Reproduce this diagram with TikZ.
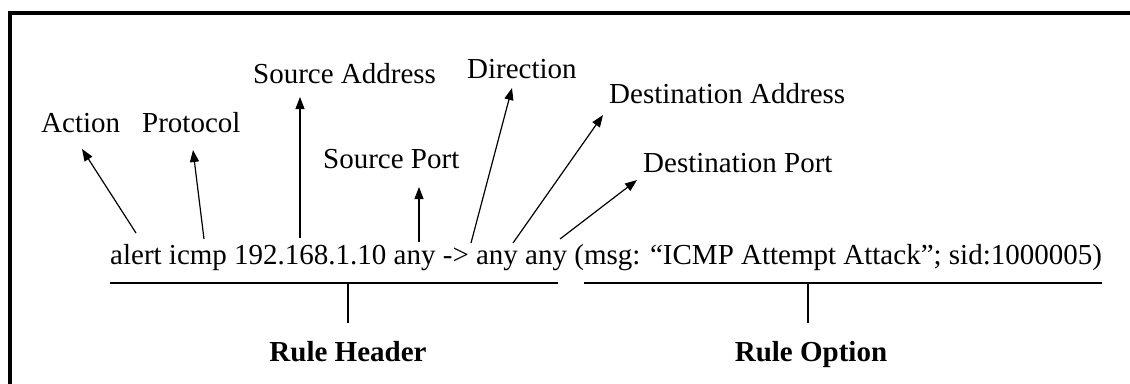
\documentclass[tikz,border=0pt]{standalone}
\usepackage{fontspec}
\setmainfont{Liberation Serif}
\usetikzlibrary{arrows.meta}
\tikzset{
  lbl/.style={inner sep=0pt, anchor=base west, font=\fontsize{29}{34}\selectfont},
  ttl/.style={inner sep=0pt, anchor=base, font=\fontsize{29}{34}\selectfont\bfseries},
  arr/.style={line width=1.2pt, -{Triangle[length=12pt,width=9pt]}},
  rul/.style={line width=1.2pt},
  frame/.style={line width=4pt}
}
\begin{document}
\begin{tikzpicture}[x=1pt,y=-1pt]
\useasboundingbox (0,0) rectangle (1130,383);
\fill[white] (0,0) rectangle (1130,383);
% frame (cut off at right and bottom)
\coordinate (fbl) at (10,385);
\coordinate (ftl) at (10,13);
\coordinate (ftr) at (1132,13);
\draw[frame] (fbl) -- (ftl) -- (ftr);
% main rule text
\node[lbl] (rule) at (110,264) {alert icmp 192.168.1.10 any -> any any (msg: “ICMP Attempt Attack”; sid:1000005)};
% labels
\node[lbl] (act) at (41,132) {Action};
\node[lbl] (prot) at (142,132) {Protocol};
\node[lbl] (saddr) at (253,83) {Source Address};
\node[lbl] (sport) at (323,168) {Source Port};
\node[lbl] (dir) at (467,78) {Direction};
\node[lbl] (daddr) at (609,103) {Destination Address};
\node[lbl] (dport) at (643,172) {Destination Port};
% arrow ends
\coordinate (actF) at (136,233);  \coordinate (actT) at (82,149);
\coordinate (protF) at (204,239); \coordinate (protT) at (193,150);
\coordinate (saF) at (300,238);   \coordinate (saT) at (300,97);
\coordinate (spF) at (419,242);   \coordinate (spT) at (419,187);
\coordinate (dirF) at (471,243);  \coordinate (dirT) at (512,88);
\coordinate (daF) at (513,243);   \coordinate (daT) at (603,115);
\coordinate (dpF) at (560,239);   \coordinate (dpT) at (637,180);
\draw[arr] (actF) -- (actT);
\draw[arr] (protF) -- (protT);
\draw[arr] (saF) -- (saT);
\draw[arr] (spF) -- (spT);
\draw[arr] (dirF) -- (dirT);
\draw[arr] (daF) -- (daT);
\draw[arr] (dpF) -- (dpT);
% brackets
\coordinate (hL) at (110,283); \coordinate (hR) at (558,283);
\coordinate (oL) at (584,283); \coordinate (oR) at (1102,283);
\coordinate (hM) at (348,283); \coordinate (oM) at (808,283);
\draw[rul] (hL) -- (hR);
\draw[rul] (oL) -- (oR);
\node[ttl] (hdr) at (348,361) {Rule Header};
\node[ttl] (opt) at (811,361) {Rule Option};
\coordinate (hB) at (348,323); \coordinate (oB) at (808,323);
\draw[rul] (hM) -- (hB);
\draw[rul] (oM) -- (oB);
\end{tikzpicture}
\end{document}
